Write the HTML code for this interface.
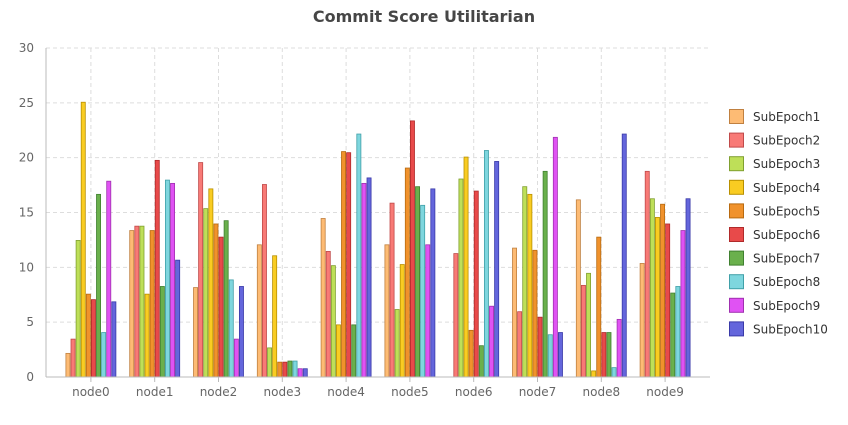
<!DOCTYPE html>
<html><head><meta charset="utf-8"><style>
body{margin:0;background:#fff;}
svg text{font-family:"DejaVu Sans","Liberation Sans",sans-serif;}
</style></head><body>
<svg id="chart" width="848" height="420" xmlns="http://www.w3.org/2000/svg">
<text x="424" y="22" text-anchor="middle" font-size="16" font-weight="bold" fill="#464646">Commit Score Utilitarian</text>
<g id="grid"></g><g id="bars"></g><g id="axes"></g><g id="legend"></g>
</svg>
<script>
const categories=["node0","node1","node2","node3","node4","node5","node6","node7","node8","node9"];
const seriesNames=["SubEpoch1","SubEpoch2","SubEpoch3","SubEpoch4","SubEpoch5","SubEpoch6","SubEpoch7","SubEpoch8","SubEpoch9","SubEpoch10"];
const s1=[2.2,13.4,8.2,12.1,14.5,12.1,0,11.8,16.2,10.4];
const s2=[3.5,13.8,19.6,17.6,11.5,15.9,11.3,6.0,8.4,18.8];
const s3=[12.5,13.8,15.4,2.7,10.2,6.2,18.1,17.4,9.5,16.3];
const s4=[25.1,7.6,17.2,11.1,4.8,10.3,20.1,16.7,0.6,14.6];
const s5=[7.6,13.4,14.0,1.4,20.6,19.1,4.3,11.6,12.8,15.8];
const s6=[7.1,19.8,12.8,1.4,20.5,23.4,17.0,5.5,4.1,14.0];
const s7=[16.7,8.3,14.3,1.5,4.8,17.4,2.9,18.8,4.1,7.7];
const s8=[4.1,18.0,8.9,1.5,22.2,15.7,20.7,3.9,0.9,8.3];
const s9=[17.9,17.7,3.5,0.8,17.7,12.1,6.5,21.9,5.3,13.4];
const s10=[6.9,10.7,8.3,0.8,18.2,17.2,19.7,4.1,22.2,16.3];
const yTicks=[0,5,10,15,20,25,30];
const series=[s1,s2,s3,s4,s5,s6,s7,s8,s9,s10];
const fills=["#fdbb74","#f87a76","#bedf58","#f9cc22","#f0922c","#e84a4a","#6ab04c","#7ed6de","#e052f3","#6466dc"];
const strokes=["#c08040","#c04a4a","#80a030","#b89000","#b86a10","#b02a2a","#408030","#40a0a8","#a030b0","#3a3aa8"];
const NS="http://www.w3.org/2000/svg";
const X0=46,X1=710,Y0=377,Y1=48,bandStart=59,band=63.8;
function y(v){return Y0-(v/30)*(Y0-Y1);}
function xc(i){return bandStart+band*(i+0.5);}
function mk(t,a,p){const e=document.createElementNS(NS,t);for(const k in a)e.setAttribute(k,a[k]);p.appendChild(e);return e;}
const grid=document.getElementById('grid'),bars=document.getElementById('bars'),axes=document.getElementById('axes'),legend=document.getElementById('legend');
yTicks.forEach(t=>{
 if(t>0){const l=mk('line',{x1:X0,x2:X1,y1:y(t),y2:y(t),stroke:'#ddd','stroke-dasharray':'4,3'},grid);
 
 }
 const tx=mk('text',{x:34,y:y(t)+4,'text-anchor':'end','font-size':12,fill:'#666'},axes);tx.textContent=t;
 
 
});
categories.forEach((c,i)=>{
 const l=mk('line',{x1:xc(i),x2:xc(i),y1:Y1,y2:Y0,stroke:'#ddd','stroke-dasharray':'4,3'},grid);
 
 
 const tk=mk('line',{x1:xc(i),x2:xc(i),y1:Y0,y2:Y0+5,stroke:'#bbb'},axes);
 
 
 const tx=mk('text',{x:xc(i),y:396,'text-anchor':'middle','font-size':12,fill:'#666'},axes);tx.textContent=c;
 
 
 const bw=5.1,gw=bw*10,start=xc(i)-gw/2;
 series.forEach((s,k)=>{
  const v=s[i];if(v<=0)return;
  const r=mk('rect',{x:start+k*bw+0.5,y:y(v)+0.5,width:bw-1,height:Math.max(0,Y0-y(v)-0.5),fill:fills[k],stroke:strokes[k],'stroke-width':0.8},bars);
  
  
 });
});
const ya=mk('line',{x1:X0,x2:X0,y1:Y1,y2:Y0,stroke:'#bbb'},axes);


const xa=mk('line',{x1:X0,x2:X1,y1:Y0,y2:Y0,stroke:'#bbb'},axes);


seriesNames.forEach((n,k)=>{
 const g=mk('g',{},legend);
 
 
 const yy=109+k*23.6;
 mk('rect',{x:729.5,y:yy+0.5,width:14,height:14,fill:fills[k],stroke:strokes[k]},g);
 const t=mk('text',{x:753,y:yy+12,'font-size':12,fill:'#333'},g);t.textContent=n;
});
</script>
</body></html>
